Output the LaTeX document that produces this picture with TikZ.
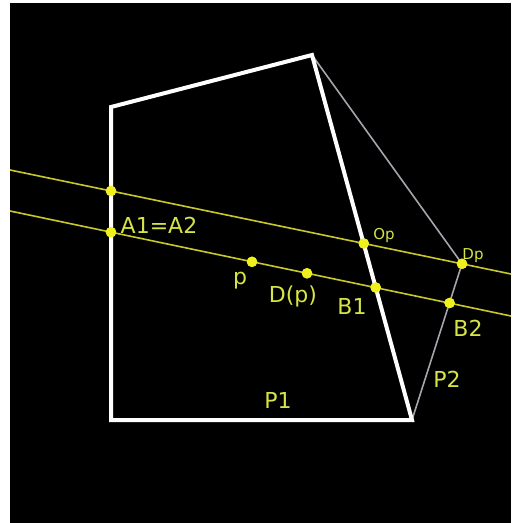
\documentclass[tikz,border=0pt]{standalone}
\usepackage{fontspec}
\newfontfamily\labfont{DejaVu Sans}
\definecolor{txtyel}{RGB}{215,228,70}
\definecolor{dotyel}{RGB}{240,240,30}
\definecolor{lineyel}{RGB}{200,200,45}
\definecolor{edgegray}{RGB}{165,165,175}
\tikzset{
  bigl/.style={text=txtyel,anchor=base,inner sep=0pt,font=\labfont\fontsize{22}{26}\selectfont},
  smalll/.style={text=txtyel,anchor=base,inner sep=0pt,font=\labfont\fontsize{15}{18}\selectfont},
  dotp/.style={circle,fill=dotyel,inner sep=0pt,minimum size=10.5pt},
  yline/.style={draw=lineyel,line width=1.6pt},
  poly/.style={draw=white,line width=4pt,line join=miter},
  thin/.style={draw=edgegray,line width=1.6pt}
}
\begin{document}
\begin{tikzpicture}[x=1pt,y=-1pt]
\useasboundingbox (0,0) rectangle (518,523);
\fill[white] (0,0) rectangle (518,523);
\fill[black] (10,3) rectangle (511,523);
% polygon vertices
\coordinate (V1) at (111,107);
\coordinate (V2) at (312,55);
\coordinate (V3) at (412,420);
\coordinate (V4) at (111,420);
% line ends
\coordinate (L1) at (10,170);
\coordinate (R1) at (511,274);
\coordinate (L2) at (10,211);
\coordinate (R2) at (511,316);
% dots
\node[dotp] (A1) at (111,191) {};
\node[dotp] (A2) at (111,232.2) {};
\node[dotp] (Op) at (363.8,243.5) {};
\node[dotp] (Dp) at (462,263.8) {};
\node[dotp] (p) at (252,261.8) {};
\node[dotp] (Dofp) at (307,273.3) {};
\node[dotp] (B1) at (375.7,287.5) {};
\node[dotp] (B2) at (449.6,303) {};
% P2
\draw[thin] (V2) -- (Dp.center) -- (V3);
% yellow lines
\draw[yline] (L1) -- (R1);
\draw[yline] (L2) -- (R2);
% P1
\draw[poly] (V1) -- (V2) -- (V3) -- (V4) -- cycle;
% redraw dots on top
\foreach \d in {A1,A2,Op,Dp,p,Dofp,B1,B2}
  \fill[dotyel] (\d.center) circle (5.25pt);
% labels
\node[bigl] (lA) at (159,233) {A1=A2};
\node[bigl] (lp) at (240,284) {p};
\node[bigl] (lD) at (293,302) {D(p)};
\node[bigl] (lB1) at (352,314) {B1};
\node[bigl] (lB2) at (468,336) {B2};
\node[bigl] (lP2) at (447,387) {P2};
\node[bigl] (lP1) at (278,408) {P1};
\node[smalll] (lOp) at (384,239) {Op};
\node[smalll] (lDp) at (473,259) {Dp};
\end{tikzpicture}
\end{document}
